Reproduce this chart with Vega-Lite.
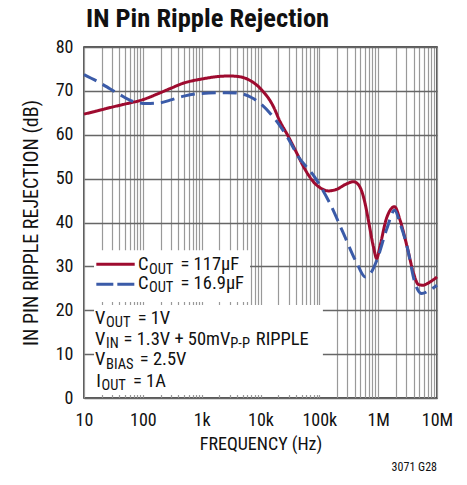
{
  "$schema": "https://vega.github.io/schema/vega-lite/v6.json",
  "width": 353,
  "height": 351,
  "autosize": "none",
  "padding": {"left": 84, "top": 47, "right": 30, "bottom": 87},
  "config": {
    "font": "Liberation Sans Narrow, Roboto Condensed, DejaVu Sans Condensed, Arial Narrow, sans-serif",
    "view": {"stroke": "#222", "strokeWidth": 1.5},
    "text": {"font": "Liberation Sans Narrow, Roboto Condensed, DejaVu Sans Condensed, Arial Narrow, sans-serif", "color": "#111", "align": "left", "baseline": "alphabetic"}
  },
  "title": {
    "text": "IN Pin Ripple Rejection",
    "anchor": "start",
    "frame": "group",
    "fontSize": 26.5,
    "fontWeight": "bold",
    "color": "#111",
    "offset": 6,
    "dx": 2
  },
  "data": {"values": [{}]},
  "datasets": {
    "curves": [
      {"freq": 10, "db": 64.7, "series": "117µF"},
      {"freq": 20, "db": 65.7, "series": "117µF"},
      {"freq": 30, "db": 66.3, "series": "117µF"},
      {"freq": 50, "db": 67.0, "series": "117µF"},
      {"freq": 100, "db": 68.0, "series": "117µF"},
      {"freq": 200, "db": 69.6, "series": "117µF"},
      {"freq": 300, "db": 70.6, "series": "117µF"},
      {"freq": 500, "db": 71.8, "series": "117µF"},
      {"freq": 1000, "db": 72.7, "series": "117µF"},
      {"freq": 2000, "db": 73.3, "series": "117µF"},
      {"freq": 3000, "db": 73.4, "series": "117µF"},
      {"freq": 4500, "db": 73.2, "series": "117µF"},
      {"freq": 7000, "db": 72.2, "series": "117µF"},
      {"freq": 10000, "db": 70.5, "series": "117µF"},
      {"freq": 16600, "db": 66.4, "series": "117µF"},
      {"freq": 21000, "db": 63.3, "series": "117µF"},
      {"freq": 30000, "db": 59.5, "series": "117µF"},
      {"freq": 39000, "db": 56.5, "series": "117µF"},
      {"freq": 55000, "db": 52.5, "series": "117µF"},
      {"freq": 79000, "db": 49.3, "series": "117µF"},
      {"freq": 110000, "db": 47.7, "series": "117µF"},
      {"freq": 143000, "db": 47.2, "series": "117µF"},
      {"freq": 200000, "db": 47.6, "series": "117µF"},
      {"freq": 280000, "db": 48.7, "series": "117µF"},
      {"freq": 380000, "db": 49.3, "series": "117µF"},
      {"freq": 450000, "db": 48.8, "series": "117µF"},
      {"freq": 520000, "db": 47.3, "series": "117µF"},
      {"freq": 600000, "db": 44.3, "series": "117µF"},
      {"freq": 680000, "db": 40.6, "series": "117µF"},
      {"freq": 830000, "db": 34.5, "series": "117µF"},
      {"freq": 945000, "db": 31.8, "series": "117µF"},
      {"freq": 1070000, "db": 34.5, "series": "117µF"},
      {"freq": 1390000, "db": 41.0, "series": "117µF"},
      {"freq": 1900000, "db": 43.6, "series": "117µF"},
      {"freq": 2350000, "db": 40.6, "series": "117µF"},
      {"freq": 3100000, "db": 34.5, "series": "117µF"},
      {"freq": 4000000, "db": 28.4, "series": "117µF"},
      {"freq": 4800000, "db": 25.9, "series": "117µF"},
      {"freq": 5760000, "db": 25.7, "series": "117µF"},
      {"freq": 7100000, "db": 26.2, "series": "117µF"},
      {"freq": 10000000, "db": 27.6, "series": "117µF"},
      {"freq": 10, "db": 73.7, "series": "16.9µF"},
      {"freq": 20, "db": 71.6, "series": "16.9µF"},
      {"freq": 27.5, "db": 70.5, "series": "16.9µF"},
      {"freq": 40, "db": 69.2, "series": "16.9µF"},
      {"freq": 60, "db": 67.9, "series": "16.9µF"},
      {"freq": 116, "db": 67.1, "series": "16.9µF"},
      {"freq": 200, "db": 67.3, "series": "16.9µF"},
      {"freq": 290, "db": 67.9, "series": "16.9µF"},
      {"freq": 500, "db": 68.8, "series": "16.9µF"},
      {"freq": 930, "db": 69.4, "series": "16.9µF"},
      {"freq": 2700, "db": 69.6, "series": "16.9µF"},
      {"freq": 4500, "db": 69.4, "series": "16.9µF"},
      {"freq": 7000, "db": 68.5, "series": "16.9µF"},
      {"freq": 10000, "db": 67.1, "series": "16.9µF"},
      {"freq": 16600, "db": 64.0, "series": "16.9µF"},
      {"freq": 21000, "db": 62.2, "series": "16.9µF"},
      {"freq": 30000, "db": 59.0, "series": "16.9µF"},
      {"freq": 44000, "db": 55.0, "series": "16.9µF"},
      {"freq": 79000, "db": 50.8, "series": "16.9µF"},
      {"freq": 152000, "db": 44.3, "series": "16.9µF"},
      {"freq": 257000, "db": 37.5, "series": "16.9µF"},
      {"freq": 435000, "db": 30.7, "series": "16.9µF"},
      {"freq": 600000, "db": 27.6, "series": "16.9µF"},
      {"freq": 750000, "db": 28.5, "series": "16.9µF"},
      {"freq": 950000, "db": 31.4, "series": "16.9µF"},
      {"freq": 1400000, "db": 38.5, "series": "16.9µF"},
      {"freq": 1900000, "db": 42.8, "series": "16.9µF"},
      {"freq": 2400000, "db": 39.5, "series": "16.9µF"},
      {"freq": 3100000, "db": 34.5, "series": "16.9µF"},
      {"freq": 4250000, "db": 26.1, "series": "16.9µF"},
      {"freq": 5500000, "db": 23.8, "series": "16.9µF"},
      {"freq": 7500000, "db": 24.6, "series": "16.9µF"},
      {"freq": 10000000, "db": 25.7, "series": "16.9µF"}
    ]
  },
  "layer": [
    {
      "data": {"name": "curves"},
      "mark": {"type": "line", "strokeWidth": 3, "interpolate": "monotone"},
      "encoding": {
        "x": {
          "field": "freq", "type": "quantitative",
          "scale": {"type": "log", "domain": [10, 10000000], "nice": false},
          "axis": {
            "values": [10,20,30,40,50,60,70,80,90,100,200,300,400,500,600,700,800,900,1000,2000,3000,4000,5000,6000,7000,8000,9000,10000,20000,30000,40000,50000,60000,70000,80000,90000,100000,200000,300000,400000,500000,600000,700000,800000,900000,1000000,2000000,3000000,4000000,5000000,6000000,7000000,8000000,9000000,10000000],
            "labelExpr": "datum.value == 10 ? '10' : datum.value == 100 ? '100' : datum.value == 1000 ? '1k' : datum.value == 10000 ? '10k' : datum.value == 100000 ? '100k' : datum.value == 1000000 ? '1M' : datum.value == 10000000 ? '10M' : ''",
            "grid": true, "gridColor": "#999", "gridWidth": 1.2, "gridOpacity": 1,
            "ticks": false, "domain": false,
            "labelFontSize": 18, "labelPadding": 13, "labelFlush": false, "labelOverlap": false, "labelColor": "#111",
            "title": "FREQUENCY (Hz)", "titleFontSize": 18, "titleFontWeight": "normal", "titleColor": "#111", "titlePadding": 6
          }
        },
        "y": {
          "field": "db", "type": "quantitative",
          "scale": {"domain": [0, 80], "nice": false},
          "axis": {
            "values": [0,10,20,30,40,50,60,70,80],
            "grid": true, "gridColor": "#666", "gridWidth": 1.3, "gridOpacity": 1,
            "ticks": false, "domain": false,
            "labelFontSize": 18, "labelPadding": 11, "labelFlush": false, "labelOverlap": false, "labelColor": "#111",
            "title": "IN PIN RIPPLE REJECTION (dB)", "titleFontSize": 20, "titleFontWeight": "normal", "titleColor": "#111", "titlePadding": 14
          }
        },
        "color": {
          "field": "series", "type": "nominal",
          "scale": {"domain": ["117µF", "16.9µF"], "range": ["#9e0b2f", "#3b5ba8"]},
          "legend": null
        },
        "strokeDash": {
          "field": "series", "type": "nominal",
          "scale": {"domain": ["117µF", "16.9µF"], "range": [[1, 0], [14, 7]]},
          "legend": null
        }
      }
    },
    {
      "mark": {"type": "rect", "fill": "white"},
      "encoding": {
        "x": {"datum": 14.8}, "x2": {"datum": 6640},
        "y": {"datum": 33.7}, "y2": {"datum": 21.9}
      }
    },
    {
      "mark": {"type": "rect", "fill": "white"},
      "encoding": {
        "x": {"datum": 14.8}, "x2": {"datum": 115000},
        "y": {"datum": 21.2}, "y2": {"datum": 0.7}
      }
    },
    {
      "mark": {"type": "rule", "color": "#9e0b2f", "strokeWidth": 3},
      "encoding": {"x": {"datum": 16.2}, "x2": {"datum": 72.8}, "y": {"datum": 30.47}}
    },
    {
      "mark": {"type": "rule", "color": "#3b5ba8", "strokeWidth": 3, "strokeDash": [17, 4]},
      "encoding": {"x": {"datum": 16.2}, "x2": {"datum": 72.8}, "y": {"datum": 25.91}}
    },
    {"mark": {"type": "text", "fontSize": 18.5}, "encoding": {"x": {"datum": 82.8}, "y": {"datum": 29.1}, "text": {"value": "C"}}},
    {"mark": {"type": "text", "fontSize": 14.5, "dx": 11.0, "dy": 3.5}, "encoding": {"x": {"datum": 82.8}, "y": {"datum": 29.1}, "text": {"value": "OUT"}}},
    {"mark": {"type": "text", "fontSize": 18.5, "dx": 42.5}, "encoding": {"x": {"datum": 82.8}, "y": {"datum": 29.1}, "text": {"value": "= 117µF"}}},
    {"mark": {"type": "text", "fontSize": 18.5}, "encoding": {"x": {"datum": 82.8}, "y": {"datum": 24.91}, "text": {"value": "C"}}},
    {"mark": {"type": "text", "fontSize": 14.5, "dx": 11.0, "dy": 3.5}, "encoding": {"x": {"datum": 82.8}, "y": {"datum": 24.91}, "text": {"value": "OUT"}}},
    {"mark": {"type": "text", "fontSize": 18.5, "dx": 42.5}, "encoding": {"x": {"datum": 82.8}, "y": {"datum": 24.91}, "text": {"value": "= 16.9µF"}}},
    {"mark": {"type": "text", "fontSize": 18.5}, "encoding": {"x": {"datum": 15.4}, "y": {"datum": 16.87}, "text": {"value": "V"}}},
    {"mark": {"type": "text", "fontSize": 14.5, "dx": 11.0, "dy": 3.5}, "encoding": {"x": {"datum": 15.4}, "y": {"datum": 16.87}, "text": {"value": "OUT"}}},
    {"mark": {"type": "text", "fontSize": 18.5, "dx": 42.6}, "encoding": {"x": {"datum": 15.4}, "y": {"datum": 16.87}, "text": {"value": "= 1V"}}},
    {"mark": {"type": "text", "fontSize": 18.5}, "encoding": {"x": {"datum": 15.4}, "y": {"datum": 12.19}, "text": {"value": "V"}}},
    {"mark": {"type": "text", "fontSize": 14.5, "dx": 11.0, "dy": 3.5}, "encoding": {"x": {"datum": 15.4}, "y": {"datum": 12.19}, "text": {"value": "IN"}}},
    {"mark": {"type": "text", "fontSize": 18.5, "dx": 28.5}, "encoding": {"x": {"datum": 15.4}, "y": {"datum": 12.19}, "text": {"value": "= 1.3V + 50mV"}}},
    {"mark": {"type": "text", "fontSize": 14.5, "dx": 135.3, "dy": 3.5}, "encoding": {"x": {"datum": 15.4}, "y": {"datum": 12.19}, "text": {"value": "P-P"}}},
    {"mark": {"type": "text", "fontSize": 18.5, "dx": 160.8}, "encoding": {"x": {"datum": 15.4}, "y": {"datum": 12.19}, "text": {"value": "RIPPLE"}}},
    {"mark": {"type": "text", "fontSize": 18.5}, "encoding": {"x": {"datum": 15.4}, "y": {"datum": 7.52}, "text": {"value": "V"}}},
    {"mark": {"type": "text", "fontSize": 14.5, "dx": 11.0, "dy": 3.5}, "encoding": {"x": {"datum": 15.4}, "y": {"datum": 7.52}, "text": {"value": "BIAS"}}},
    {"mark": {"type": "text", "fontSize": 18.5, "dx": 44.8}, "encoding": {"x": {"datum": 15.4}, "y": {"datum": 7.52}, "text": {"value": "= 2.5V"}}},
    {"mark": {"type": "text", "fontSize": 18.5}, "encoding": {"x": {"datum": 16.2}, "y": {"datum": 2.62}, "text": {"value": "I"}}},
    {"mark": {"type": "text", "fontSize": 14.5, "dx": 5.1, "dy": 3.5}, "encoding": {"x": {"datum": 16.2}, "y": {"datum": 2.62}, "text": {"value": "OUT"}}},
    {"mark": {"type": "text", "fontSize": 18.5, "dx": 36.6}, "encoding": {"x": {"datum": 16.2}, "y": {"datum": 2.62}, "text": {"value": "= 1A"}}},
    {"mark": {"type": "text", "align": "right", "fontSize": 12}, "encoding": {"x": {"datum": 10000000}, "y": {"datum": -16.6}, "text": {"value": "3071 G28"}}}
  ]
}
